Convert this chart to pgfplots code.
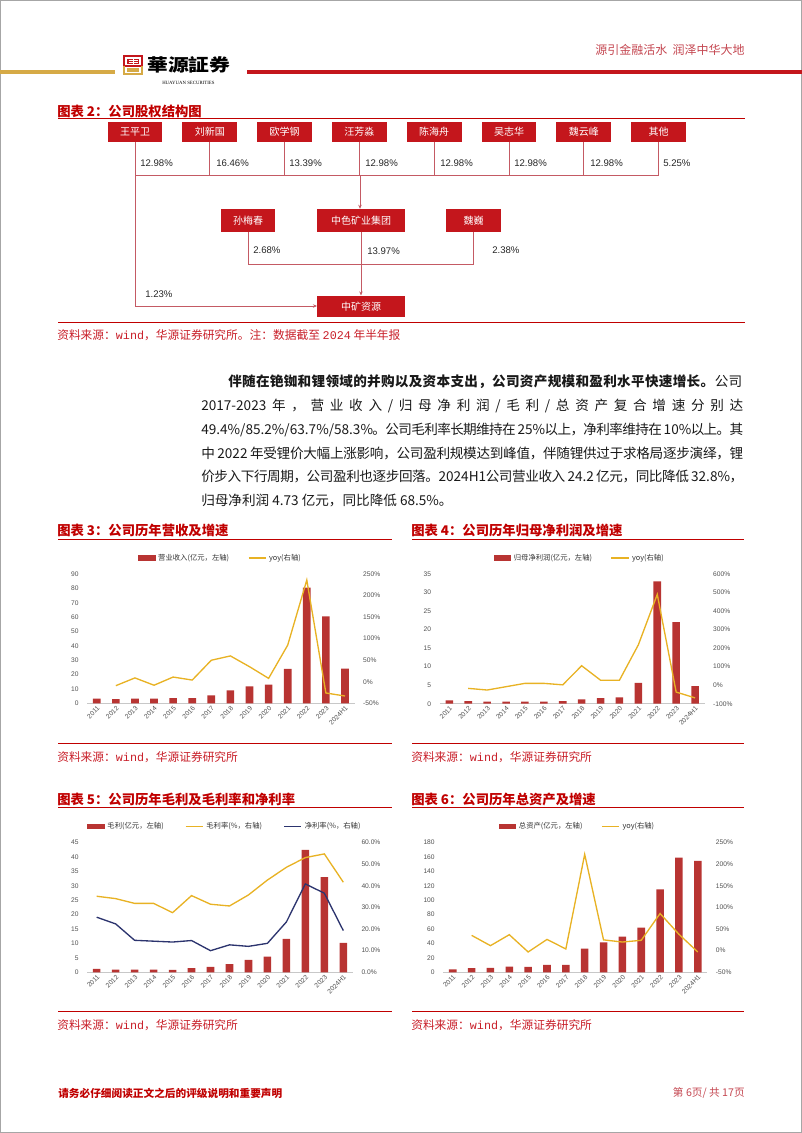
\documentclass[border=0pt]{standalone}
\usepackage{pgfplots}
\pgfplotsset{compat=1.18}
\usepackage{fontspec}
\setmainfont{Noto Sans CJK SC}
\newfontfamily\arial{Liberation Sans}
\newfontfamily\mono{Liberation Mono}
\newfontfamily\serif{Liberation Serif}
\usetikzlibrary{arrows.meta}

\definecolor{titred}{RGB}{192,0,0}
\definecolor{srcred}{RGB}{200,30,40}
\definecolor{boxred}{RGB}{196,22,28}
\definecolor{barred}{RGB}{184,52,50}
\definecolor{gold}{RGB}{232,178,36}
\definecolor{navy}{RGB}{44,52,110}
\definecolor{linkc}{RGB}{196,90,100}
\definecolor{axc}{RGB}{200,200,200}
\definecolor{tickc}{RGB}{80,80,80}
\definecolor{logogold}{RGB}{214,170,70}
\definecolor{slogan}{RGB}{196,70,80}

% justified line: glue between every token
\def\Jstop{JSTOP}
\def\Jloop#1{\ifx\Jstop#1\else#1\hskip 0pt plus 1fil minus 0.8pt\relax\expandafter\Jloop\fi}
\newcommand\J[2]{\makebox[#1][s]{\Jloop#2\Jstop\unskip}}

\pgfplotsset{
  base/.style={scale only axis, anchor=south west, xmin=-0.5, xmax=13.5,
    major tick length=0pt,
    tick label style={font=\arial\fontsize{5}{6}\selectfont, text=tickc},
    /pgf/number format/assume math mode=true},
  lax/.style={base, axis x line*=bottom, axis y line*=left,
    y axis line style={draw=none}, x axis line style={draw=axc, line width=0.6pt, -},
    xtick={0,...,13},
    xticklabels={2011,2012,2013,2014,2015,2016,2017,2018,2019,2020,2021,2022,2023,2024H1},
    x tick label style={rotate=45, anchor=north east, inner sep=1pt},
    y tick label style={xshift=-3pt},
    legend style={draw=none, fill=none, anchor=center, legend columns=-1,
      font=\fontsize{5.5}{6.5}\selectfont, text=black!80,
      /tikz/every even column/.append style={column sep=12pt}}},
  rax/.style={base, axis x line=none, axis y line*=right, y axis line style={draw=none},
    xtick=\empty, y tick label style={xshift=3pt}},
  barleg/.style={legend image code/.code={\fill[barred] (0pt,-2pt) rectangle (13pt,2pt);}},
}

\begin{document}
\begin{tikzpicture}
\begin{scope}[x=0.75pt,y=-0.75pt]
\useasboundingbox (0,0) rectangle (802,1133);
\draw[gray!70, line width=1pt] (0.7,0.7) rectangle (801.3,1132.3);

% header
\fill[logogold] (0,70) rectangle (115,73.5);
\fill[boxred] (247,70) rectangle (802,73.5);
\draw[boxred, line width=1.1pt] (124,56) rectangle (142,66);
\fill[boxred] (127,58.5) rectangle (139,64);
\draw[white, line width=0.5pt] (128.5,60.3)--(137.5,60.3) (128.5,62.3)--(137.5,62.3) (133,58.5)--(133,64);
\draw[logogold, line width=1.1pt] (124,66)--(124,74)--(142,74)--(142,66);
\fill[logogold] (127,67.5) rectangle (139,71.5);
\node[anchor=west, inner sep=0, font=\bfseries\fontsize{13}{14}\selectfont, xscale=1.2, transform shape] at (147,65) {華源証券};
\node[anchor=west, inner sep=0, font=\serif\fontsize{3.6}{4}\selectfont] at (162,82.5) {HUAYUAN SECURITIES};
\node[anchor=east, inner sep=0, text=slogan, font=\fontsize{9}{10}\selectfont] at (745,50) {源引金融活水\hspace{4pt}润泽中华大地};

% figure 2
\node[anchor=west, inner sep=0, text=titred, font=\bfseries\fontsize{10}{11}\selectfont] at (57,111) {图表 2：公司股权结构图};
\draw[titred, line width=0.8pt] (58,118.5) -- (745,118.5);

\begin{scope}[every node/.style={fill=boxred, text=white, font=\fontsize{7.5}{8}\selectfont, inner sep=0, minimum height=15.6pt}]
\foreach \xc/\nm in {135/王平卫, 209.8/刘新国, 284.6/欧学钢, 359.4/汪芳淼, 434.2/陈海舟, 509/吴志华, 583.8/魏云峰, 658.6/其他}
  \node[minimum width=41pt] at (\xc,132) {\nm};
\node[minimum width=40.5pt, minimum height=17pt] at (248,220.3) {孙梅春};
\node[minimum width=66pt, minimum height=17pt] at (361,220.3) {中色矿业集团};
\node[minimum width=41pt, minimum height=17pt] at (473.5,220.3) {魏巍};
\node[minimum width=66pt, minimum height=16.2pt] at (361,306.5) {中矿资源};
\end{scope}

\begin{scope}[linkc, line width=0.6pt]
\foreach \xc in {209.8,284.6,359.4,434.2,509,583.8,658.6}
  \draw (\xc,142.4) -- (\xc,175.5);
\draw (135,175.5) -- (658.6,175.5);
\draw[-{Stealth[length=3pt,width=2.6pt]}] (135,142.4) -- (135,306) -- (317,306);
\draw[-{Stealth[length=3pt,width=2.6pt]}] (360,175.5) -- (360,208.8);
\draw (248,231.8) -- (248,264) -- (473.5,264) -- (473.5,231.8);
\draw[-{Stealth[length=3pt,width=2.6pt]}] (361,231.8) -- (361,295.4);
\end{scope}

\begin{scope}[every node/.style={anchor=west, inner sep=0, font=\arial\fontsize{7.2}{8}\selectfont, text=black!85}]
\foreach \xl/\pc in {140/12.98, 216/16.46, 289/13.39, 365/12.98, 440/12.98, 514/12.98, 590/12.98, 663/5.25}
  \node at (\xl,162.7) {\pc\%};
\node at (253,250) {2.68\%};
\node at (367,251) {13.97\%};
\node at (492,250) {2.38\%};
\node at (145,294.3) {1.23\%};
\end{scope}

\draw[titred, line width=0.8pt] (58,322.5) -- (745,322.5);
\node[anchor=west, inner sep=0, text=srcred, font=\fontsize{8.8}{10}\selectfont] at (57,335) {资料来源：{\mono wind}，华源证券研究所。注：数据截至 {\mono 2024} 年半年报};

% paragraph
\begin{scope}[every node/.style={anchor=west, inner sep=0, font=\fontsize{10.2}{12}\selectfont, text=black!90}]
\node at (228,382) {\bfseries\J{385.5pt}{伴随在铯铷和锂领域的并购以及资本支出，公司资产规模和盈利水平快速增长。\mdseries 公司}};
\node at (201,406) {\J{406.5pt}{{2017-2023}年，营业收入/归母净利润/毛利/总资产复合增速分别达}};
\node at (201,429.5) {\J{406.5pt}{{49.4\%/85.2\%/63.7\%/58.3\%}。公司毛利率长期维持在{\ 25\%}以上，净利率维持在{\ 10\%}以上。其}};
\node at (201,453) {\J{406.5pt}{中{\ 2022\ }年受锂价大幅上涨影响，公司盈利规模达到峰值，伴随锂供过于求格局逐步演绎，锂}};
\node at (201,476.5) {\J{406.5pt}{价步入下行周期，公司盈利也逐步回落。{2024H1}公司营业收入{\ 24.2\ }亿元，同比降低{\ 32.8\%}，}};
\node at (201,500) {归母净利润 4.73 亿元，同比降低 68.5\%。};
\end{scope}

% chart frames
\begin{scope}[every node/.style={anchor=west, inner sep=0, text=titred, font=\bfseries\fontsize{10}{11}\selectfont}]
\node at (57,530) {图表 3：公司历年营收及增速};
\node at (411,530) {图表 4：公司历年归母净利润及增速};
\node at (57,799) {图表 5：公司历年毛利及毛利率和净利率};
\node at (411,799) {图表 6：公司历年总资产及增速};
\end{scope}
\begin{scope}[titred, line width=0.8pt]
\draw (58,539.3) -- (392,539.3);  \draw (412,539.3) -- (744,539.3);
\draw (58,743.3) -- (392,743.3);  \draw (412,743.3) -- (744,743.3);
\draw (58,807.8) -- (392,807.8);  \draw (412,807.8) -- (744,807.8);
\draw (58,1011.7) -- (392,1011.7); \draw (412,1011.7) -- (744,1011.7);
\end{scope}
\begin{scope}[every node/.style={anchor=west, inner sep=0, text=srcred, font=\fontsize{8.8}{10}\selectfont}]
\node at (57,757) {资料来源：{\mono wind}，华源证券研究所};
\node at (411,757) {资料来源：{\mono wind}，华源证券研究所};
\node at (57,1025) {资料来源：{\mono wind}，华源证券研究所};
\node at (411,1025) {资料来源：{\mono wind}，华源证券研究所};
\end{scope}

% footer
\node[anchor=west, inner sep=0, text=titred, font=\bfseries\fontsize{8}{9}\selectfont] at (58,1093) {请务必仔细阅读正文之后的评级说明和重要声明};
\node[anchor=east, inner sep=0, text=slogan, font=\fontsize{8}{9}\selectfont] at (745,1093) {第 6页/ 共 17页};
\end{scope}

% ---- chart 3
\begin{axis}[lax, at={(65.4pt,-527.5pt)}, width=200.5pt, height=97pt,
  ymin=0, ymax=90, ytick={0,10,...,90},
  legend style={at={(0.5,1.124)}}]
\addplot[ybar, bar width=0.4, fill=barred, draw=none, barleg] coordinates {
 (0,3.3) (1,3.0) (2,3.3) (3,3.3) (4,3.6) (5,3.6) (6,5.6) (7,9.0)
 (8,11.8) (9,13.0) (10,24.0) (11,80.5) (12,60.6) (13,24.2)};
\addlegendentry{营业收入(亿元，左轴)}
\addlegendimage{legend image code/.code={\draw[gold, line width=1pt] (0pt,0pt) -- (13pt,0pt);}}
\addlegendentry{yoy(右轴)}
\end{axis}
\begin{axis}[rax, at={(65.4pt,-527.5pt)}, width=200.5pt, height=97pt,
  ymin=-50, ymax=250, ytick={-50,0,...,250},
  yticklabel={\pgfmathprintnumber{\tick}\%}]
\addplot[gold, line width=1pt] coordinates {
 (1,-9) (2,9) (3,-8) (4,11) (5,4) (6,50) (7,60) (8,35) (9,8)
 (10,85) (11,236) (12,-26) (13,-33)};
\end{axis}

% ---- chart 4
\begin{axis}[lax, at={(329.9pt,-527.8pt)}, width=198.5pt, height=97.3pt,
  ymin=0, ymax=35, ytick={0,5,...,35},
  legend style={at={(0.53,1.124)}}]
\addplot[ybar, bar width=0.4, fill=barred, draw=none, barleg] coordinates {
 (0,0.9) (1,0.7) (2,0.55) (3,0.55) (4,0.55) (5,0.55) (6,0.7) (7,1.2)
 (8,1.5) (9,1.7) (10,5.6) (11,33.0) (12,22.0) (13,4.73)};
\addlegendentry{归母净利润(亿元，左轴)}
\addlegendimage{legend image code/.code={\draw[gold, line width=1pt] (0pt,0pt) -- (13pt,0pt);}}
\addlegendentry{yoy(右轴)}
\end{axis}
\begin{axis}[rax, at={(329.9pt,-527.8pt)}, width=198.5pt, height=97.3pt,
  ymin=-100, ymax=600, ytick={-100,0,...,600},
  yticklabel={\pgfmathprintnumber{\tick}\%}]
\addplot[gold, line width=1pt] coordinates {
 (1,-17) (2,-26) (3,-8) (4,10) (5,10) (6,2) (7,105) (8,27) (9,27)
 (10,218) (11,490) (12,-37) (13,-68.5)};
\end{axis}

% ---- chart 5
\begin{axis}[lax, at={(65.4pt,-729.2pt)}, width=199.2pt, height=97.2pt,
  ymin=0, ymax=45, ytick={0,5,...,45},
  legend style={at={(0.52,1.123)}, /tikz/every even column/.append style={column sep=14pt}}]
\addplot[ybar, bar width=0.4, fill=barred, draw=none, barleg] coordinates {
 (0,1.2) (1,0.95) (2,0.95) (3,0.95) (4,0.8) (5,1.4) (6,1.85) (7,2.8)
 (8,4.3) (9,5.4) (10,11.6) (11,42.5) (12,33.0) (13,10.2)};
\addlegendentry{毛利(亿元，左轴)}
\addlegendimage{legend image code/.code={\draw[gold, line width=1pt] (0pt,0pt) -- (13pt,0pt);}}
\addlegendentry{毛利率(\%，右轴)}
\addlegendimage{legend image code/.code={\draw[navy, line width=1pt] (0pt,0pt) -- (13pt,0pt);}}
\addlegendentry{净利率(\%，右轴)}
\end{axis}
\begin{axis}[rax, at={(65.4pt,-729.2pt)}, width=199.2pt, height=97.2pt,
  ymin=0, ymax=60, ytick={0,10,...,60},
  yticklabel={\pgfmathprintnumber[fixed,fixed zerofill,precision=1]{\tick}\%}]
\addplot[gold, line width=1pt] coordinates {
 (0,35.2) (1,34.1) (2,31.9) (3,31.9) (4,27.6) (5,35.5) (6,31.5) (7,30.7)
 (8,35.8) (9,42.7) (10,48.6) (11,53.1) (12,54.8) (13,41.7)};
\addplot[navy, line width=1pt] coordinates {
 (0,25.5) (1,22.4) (2,14.8) (3,14.4) (4,14.0) (5,14.7) (6,10.0) (7,12.7)
 (8,12.0) (9,13.4) (10,23.3) (11,40.9) (12,36.6) (13,19.3)};
\end{axis}

% ---- chart 6
\begin{axis}[lax, at={(332.5pt,-729.2pt)}, width=197.9pt, height=97.2pt,
  ymin=0, ymax=180, ytick={0,20,...,180},
  legend style={at={(0.51,1.123)}}]
\addplot[ybar, bar width=0.4, fill=barred, draw=none, barleg] coordinates {
 (0,4.2) (1,5.6) (2,6.0) (3,7.9) (4,7.4) (5,10.2) (6,10.2) (7,32.9)
 (8,41.6) (9,49.5) (10,62.0) (11,115.2) (12,159.2) (13,154.6)};
\addlegendentry{总资产(亿元，左轴)}
\addlegendimage{legend image code/.code={\draw[gold, line width=1pt] (0pt,0pt) -- (13pt,0pt);}}
\addlegendentry{yoy(右轴)}
\end{axis}
\begin{axis}[rax, at={(332.5pt,-729.2pt)}, width=197.9pt, height=97.2pt,
  ymin=-50, ymax=250, ytick={-50,0,...,250},
  yticklabel={\pgfmathprintnumber{\tick}\%}]
\addplot[gold, line width=1pt] coordinates {
 (1,35.5) (2,11.6) (3,37) (4,-3) (5,26) (6,4) (7,223) (8,25) (9,20)
 (10,24) (11,86) (12,38) (13,-3)};
\end{axis}
\end{tikzpicture}
\end{document}
